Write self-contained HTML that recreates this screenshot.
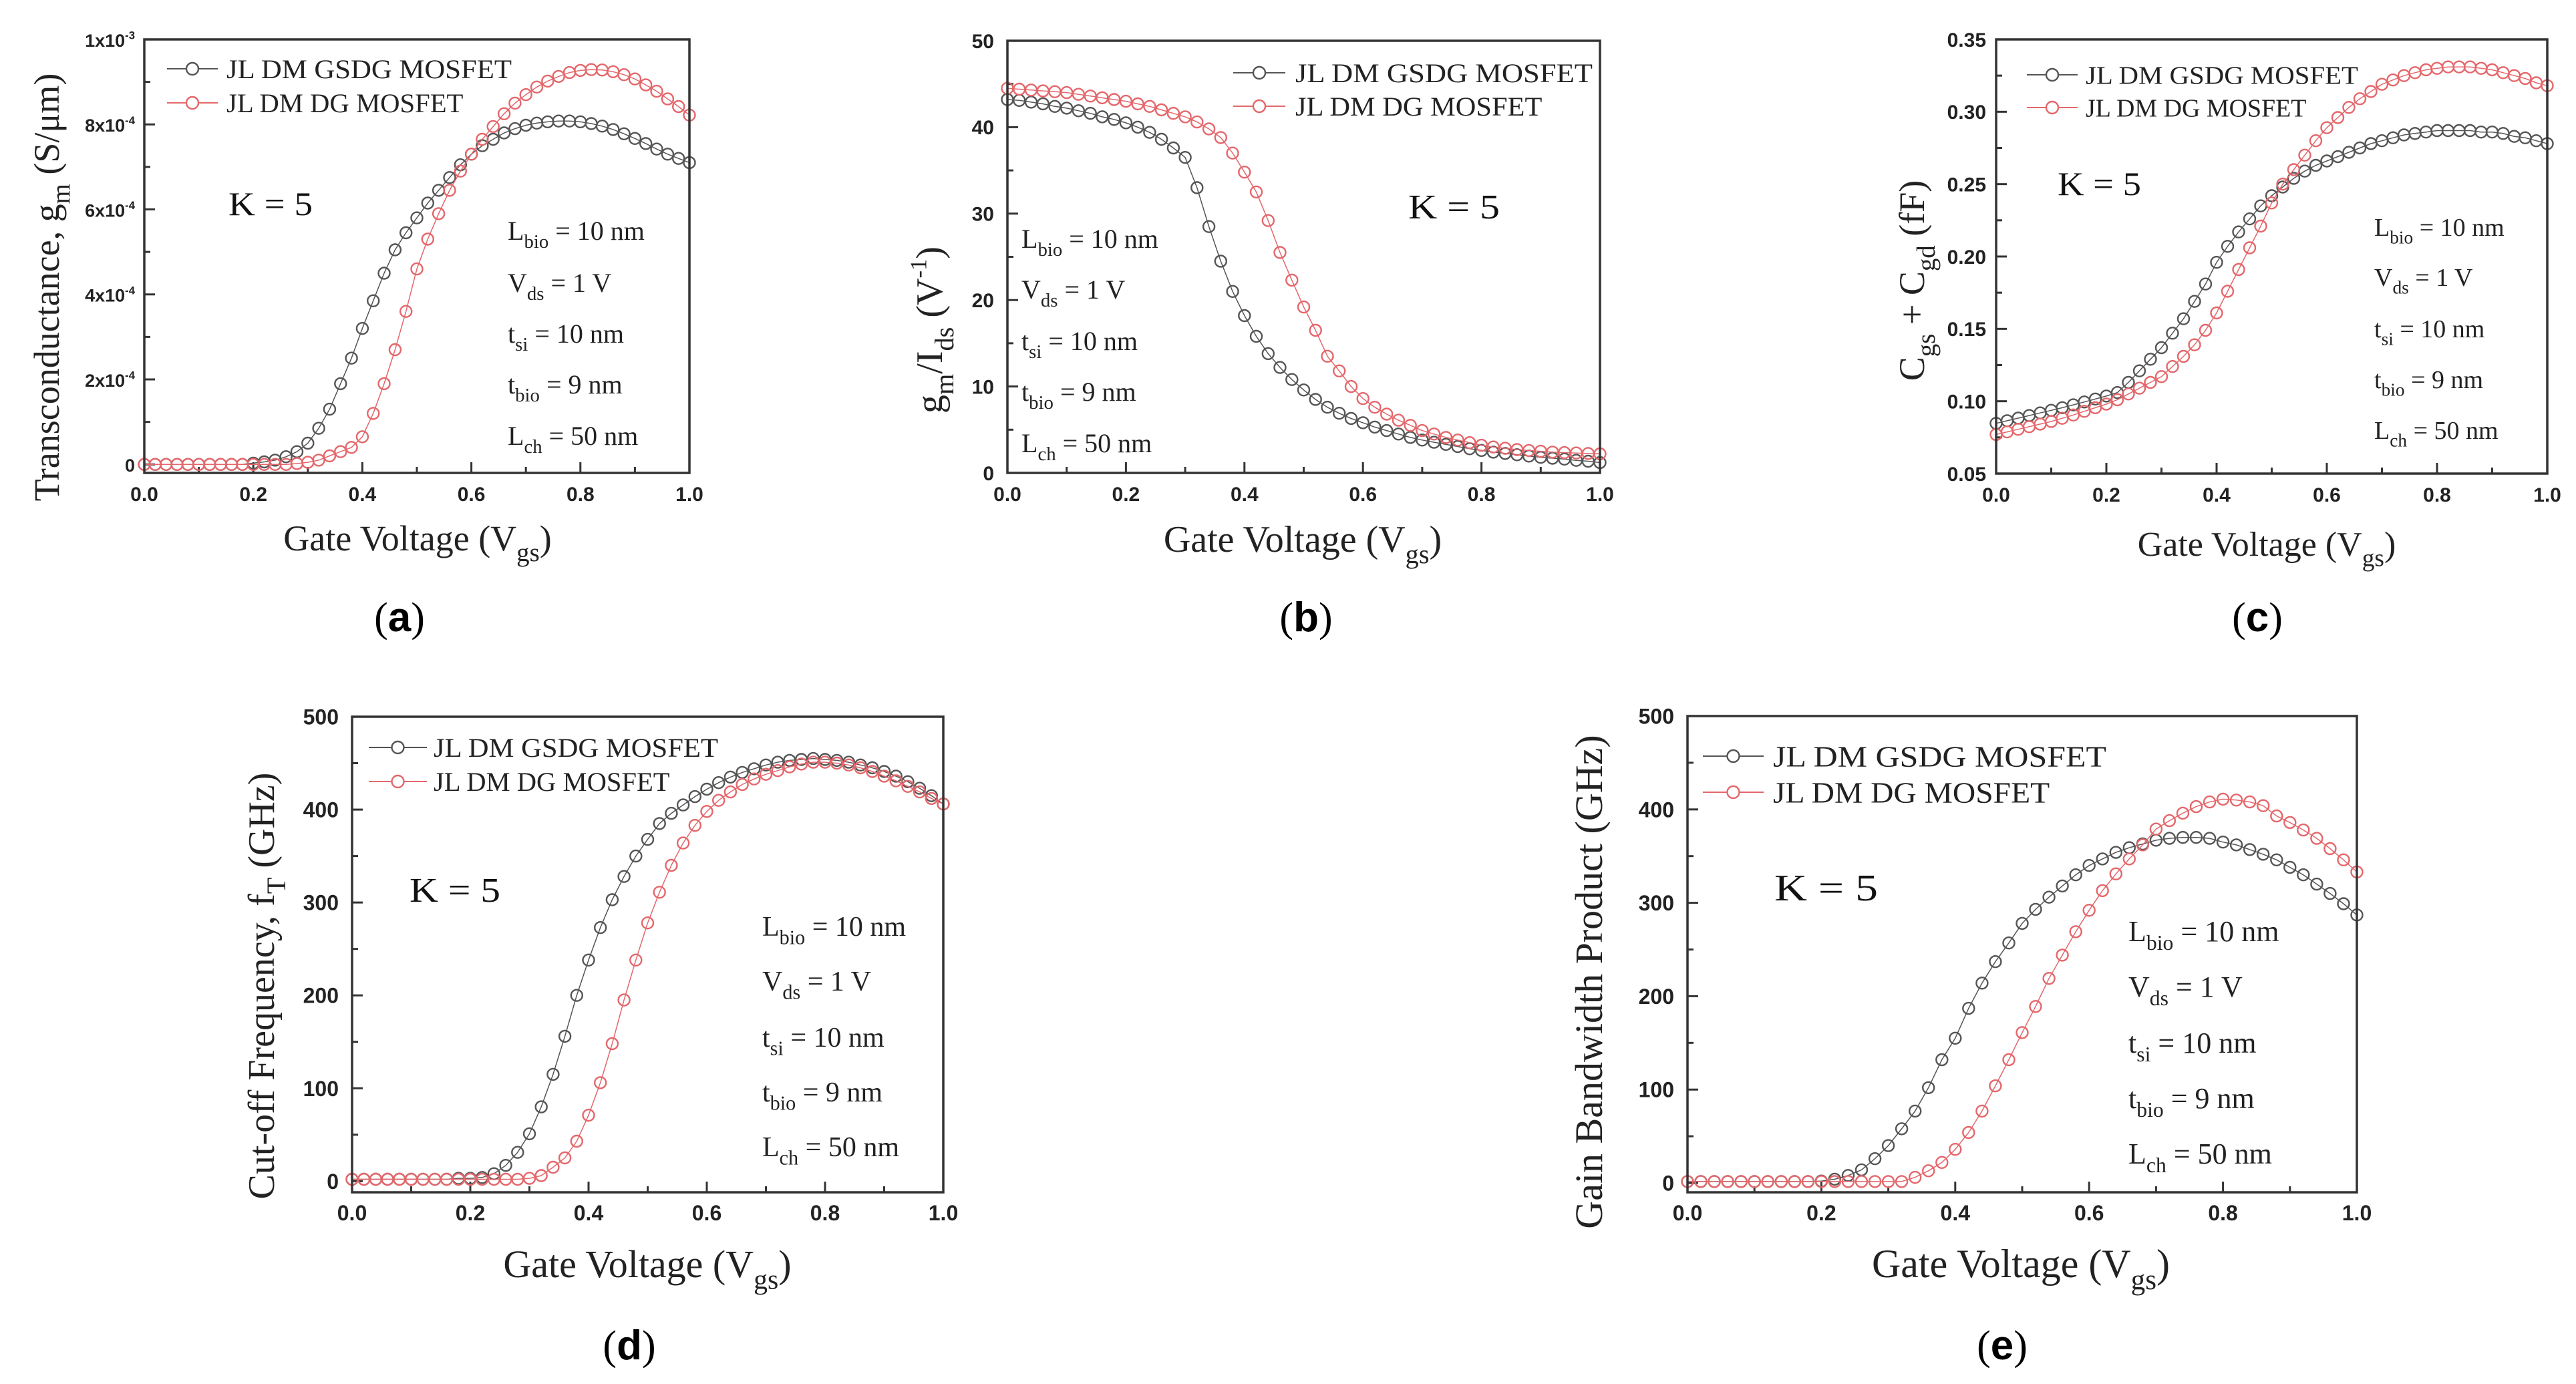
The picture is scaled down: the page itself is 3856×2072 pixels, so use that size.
<!DOCTYPE html>
<html><head><meta charset="utf-8"><style>
html,body{margin:0;padding:0;background:#fff;}
svg{display:block;}
</style></head>
<body>
<svg id="fig" xmlns="http://www.w3.org/2000/svg" width="3856" height="2072" viewBox="0 0 3856 2072">
<rect x="0" y="0" width="3856" height="2072" fill="#fff"/>
</svg>
<script>
// ---------- data (x = gate voltage 0..1 step 0.02) ----------
const xVgs = Array.from({length:51},(_,i)=>+(i*0.02).toFixed(2));
const xTicks = [0,0.2,0.4,0.6,0.8,1.0];
const xTickLabels = ['0.0','0.2','0.4','0.6','0.8','1.0'];
const xMinorTicks = [0.1,0.3,0.5,0.7,0.9];

// (a) transconductance, units of 1e-4 S/um
const gmGSDG = [0,0,0,0,0,0,0,0,0,0,0.03,0.06,0.1,0.18,0.3,0.5,0.85,1.3,1.9,2.5,3.2,3.85,4.5,5.05,5.45,5.8,6.15,6.45,6.75,7.05,7.3,7.5,7.65,7.8,7.9,7.98,8.03,8.06,8.08,8.08,8.06,8.02,7.96,7.88,7.78,7.67,7.55,7.42,7.3,7.2,7.1];
const gmDG = [0,0,0,0,0,0,0,0,0,0,0,0,0,0,0.02,0.05,0.1,0.2,0.3,0.4,0.65,1.2,1.9,2.7,3.6,4.6,5.3,5.9,6.45,6.9,7.3,7.65,7.95,8.25,8.5,8.7,8.88,9.02,9.13,9.22,9.27,9.29,9.28,9.24,9.17,9.07,8.93,8.78,8.6,8.42,8.22];
const aYTicks = [0,2,4,6,8,10];
const aYTickLabels = ['0','2x10^{-4}','4x10^{-4}','6x10^{-4}','8x10^{-4}','1x10^{-3}'];
const aYMinor = [1,3,5,7,9];

// (b) gm/Ids (1/V)
const gmIdGSDG = [43.2,43.1,42.9,42.7,42.4,42.2,41.9,41.6,41.2,40.9,40.5,40,39.4,38.6,37.6,36.5,33,28.5,24.5,21,18.2,15.8,13.8,12.2,10.8,9.6,8.5,7.6,6.9,6.3,5.8,5.3,4.9,4.5,4.1,3.8,3.55,3.3,3.05,2.8,2.6,2.4,2.25,2.1,1.95,1.8,1.7,1.6,1.45,1.35,1.2];
const gmIdDG = [44.5,44.4,44.3,44.2,44.1,44,43.8,43.6,43.4,43.2,43,42.7,42.4,42,41.6,41.2,40.6,39.8,38.8,37,34.8,32.5,29.2,25.5,22.3,19.2,16.5,13.5,11.8,10,8.6,7.6,6.8,6.1,5.5,4.9,4.5,4.1,3.8,3.5,3.2,3,2.85,2.7,2.6,2.5,2.4,2.35,2.3,2.25,2.2];
const bYTicks = [0,10,20,30,40,50];
const bYTickLabels = ['0','10','20','30','40','50'];
const bYMinor = [5,15,25,35,45];

// (c) Cgs + Cgd (fF)
const capGSDG = [0.0847,0.0865,0.0883,0.0901,0.0919,0.0937,0.0955,0.0975,0.0995,0.1015,0.1036,0.106,0.113,0.121,0.129,0.137,0.147,0.157,0.169,0.181,0.196,0.207,0.217,0.226,0.235,0.242,0.248,0.254,0.259,0.263,0.266,0.269,0.272,0.275,0.278,0.28,0.282,0.284,0.285,0.286,0.287,0.287,0.287,0.287,0.286,0.286,0.285,0.283,0.282,0.28,0.278];
const capDG = [0.077,0.0788,0.0806,0.0824,0.0842,0.086,0.0882,0.0905,0.093,0.0955,0.098,0.101,0.105,0.109,0.113,0.117,0.124,0.131,0.139,0.149,0.161,0.176,0.191,0.206,0.221,0.237,0.25,0.26,0.27,0.28,0.289,0.296,0.303,0.309,0.314,0.319,0.322,0.325,0.327,0.329,0.33,0.331,0.331,0.331,0.33,0.329,0.327,0.325,0.323,0.32,0.318];
const cYTicks = [0.05,0.10,0.15,0.20,0.25,0.30,0.35];
const cYTickLabels = ['0.05','0.10','0.15','0.20','0.25','0.30','0.35'];
const cYMinor = [0.075,0.125,0.175,0.225,0.275,0.325];

// (d) cut-off frequency fT (GHz)
const ftGSDG = [2,2,2,2,2,2,2,2,2,3,3,4,8,17,31,51,80,115,156,200,238,273,303,328,350,368,385,396,405,414,422,429,435,440,444,448,451,453,454,455,454,453,451,448,445,441,436,430,423,415,406];
const ftDG = [2,2,2,2,2,2,2,2,2,2,2,2,2,2,2,3,6,15,25,43,71,106,148,195,238,278,311,340,364,383,398,410,419,427,433,438,442,446,449,451,451,450,448,445,441,436,431,425,419,412,406];
const dYTicks = [0,100,200,300,400,500];
const dYTickLabels = ['0','100','200','300','400','500'];
const dYMinor = [50,150,250,350,450];

// (e) gain bandwidth product (GHz)
const gbwGSDG = [1.5,1.5,1.5,1.5,1.5,1.5,1.5,1.5,1.5,1.5,2,4,8,14,26,40,58,77,102,132,155,187,214,237,257,278,293,306,318,330,340,347,354,359,363,367,369,370,370,369,365,362,357,352,346,338,330,320,310,299,287];
const gbwDG = [1.5,1.5,1.5,1.5,1.5,1.5,1.5,1.5,1.5,1.5,1.5,1.5,1.5,1.5,1.5,1.5,1.5,6,13,22,36,54,77,104,132,161,189,219,244,269,292,313,331,347,362,379,388,396,403,408,411,410,408,404,393,386,378,369,358,346,333];
const eYTicks = [0,100,200,300,400,500];
const eYTickLabels = ['0','100','200','300','400','500'];
const eYMinor = [50,150,250,350,450];

const legendNames = ['JL DM GSDG MOSFET','JL DM DG MOSFET'];
const paramLines = ['L_{bio} = 10 nm','V_{ds} = 1 V','t_{si} = 10 nm','t_{bio} = 9 nm','L_{ch} = 50 nm'];

// ---------- rendering ----------
const NS='http://www.w3.org/2000/svg';
const svg=document.getElementById('fig');
const GRAY='#555555', RED='#e4676b';

function mk(tag, attrs, parent){
  const e=document.createElementNS(NS,tag);
  for(const k in attrs) e.setAttribute(k,attrs[k]);
  (parent||svg).appendChild(e);
  return e;
}
function rich(t, str, size){
  const parts=str.split(/(_\{[^}]*\}|\^\{[^}]*\})/);
  let shift=0;
  for(const p of parts){
    if(!p) continue;
    let target=0, fs=size, txt=p;
    if(p[0]==='_'){target=size*0.3; fs=size*0.72; txt=p.slice(2,-1);}
    else if(p[0]==='^'){target=-size*0.42; fs=size*0.62; txt=p.slice(2,-1);}
    const ts=document.createElementNS(NS,'tspan');
    ts.setAttribute('dy',(target-shift).toFixed(1));
    ts.setAttribute('font-size',fs.toFixed(1));
    ts.textContent=txt;
    t.appendChild(ts);
    shift=target;
  }
}

function drawPanel(p, gray, red, yTicks, yLabels, yMinor){
  const g=mk('g',{});
  
  
  const sx=v=>p.L+(v-0)*(p.R-p.L);
  const sy=v=>p.B-(v-p.ymin)/(p.ymax-p.ymin)*(p.B-p.T);
  for(let i=0;i<xTicks.length;i++){
    const x=sx(xTicks[i]);
    const tk=mk('line',{x1:x,x2:x,y1:p.B,y2:p.B-16,stroke:'#333','stroke-width':3},g);
    
    
    const lb=mk('text',{x:x,y:p.B+p.xlabOff,'text-anchor':'middle','font-family':'Liberation Sans, sans-serif','font-weight':'bold','font-size':p.tickFs,fill:'#222'},g);
    lb.textContent=xTickLabels[i];
    
    
  }
  for(const v of xMinorTicks){
    const x=sx(v);
    const tk=mk('line',{x1:x,x2:x,y1:p.B,y2:p.B-9,stroke:'#333','stroke-width':3},g);
    
    
  }
  for(let i=0;i<yTicks.length;i++){
    const y=sy(yTicks[i]);
    const tk=mk('line',{x1:p.L,x2:p.L+16,y1:y,y2:y,stroke:'#333','stroke-width':3},g);
    
    
    const lb=mk('text',{x:p.L-p.ylabOff,y:y+p.tickFs*0.36,'text-anchor':'end','font-family':'Liberation Sans, sans-serif','font-weight':'bold','font-size':p.yTickFs||p.tickFs,fill:'#222'},g);
    rich(lb,yLabels[i],p.yTickFs||p.tickFs);
    
    
  }
  for(const v of yMinor){
    const y=sy(v);
    const tk=mk('line',{x1:p.L,x2:p.L+9,y1:y,y2:y,stroke:'#333','stroke-width':3},g);
    
    
  }
  const series=[[gray,GRAY,'gsdg'],[red,RED,'dg']];
  for(const [data,col,nm] of series){
    const sg=mk('g',{},g);
    
    
    const pts=data.map((v,i)=>sx(xVgs[i]).toFixed(1)+','+sy(v).toFixed(1)).join(' ');
    const pl=mk('polyline',{points:pts,fill:'none',stroke:col,'stroke-width':1.5},sg);
    
    
    data.forEach((v,i)=>{
      const c=mk('circle',{cx:sx(xVgs[i]).toFixed(1),cy:sy(v).toFixed(1),r:8.5,fill:'none',stroke:col,'stroke-width':2.4},sg);
      
      
    });
  }
  const fr=mk('rect',{x:p.L,y:p.T,width:p.R-p.L,height:p.B-p.T,fill:'none',stroke:'#333','stroke-width':3.5},g);
  
  
  const lg=mk('g',{},g);
  
  
  [[GRAY,p.leg.y1],[RED,p.leg.y2]].forEach(([col,y],i)=>{
    const ln=mk('line',{x1:p.leg.x1,x2:p.leg.x2,y1:y,y2:y,stroke:col,'stroke-width':2},lg);
    
    
    const c=mk('circle',{cx:(p.leg.x1+p.leg.x2)/2,cy:y,r:9,fill:'#fff',stroke:col,'stroke-width':2.4},lg);
    
    
    const t=mk('text',{x:p.leg.tx,y:y+p.leg.fs*0.35,'font-family':'Liberation Serif, serif','font-size':p.leg.fs,fill:'#222',textLength:p.leg.tw*(i===0?1:p.leg.r2),lengthAdjust:'spacingAndGlyphs'},lg);
    t.textContent=legendNames[i];
    
    
  });
  const k=mk('text',{x:p.k.x,y:p.k.y,'font-family':'Liberation Serif, serif','font-size':p.k.fs,fill:'#111',textLength:p.k.w,lengthAdjust:'spacingAndGlyphs'},g);
  k.textContent='K = 5';
  
  
  paramLines.forEach((s,i)=>{
    const t=mk('text',{x:p.par.x,y:p.par.ys[i],'font-family':'Liberation Serif, serif','font-size':p.par.fs,fill:'#222'},g);
    rich(t,s,p.par.fs);
    
    
  });
  const xt=mk('text',{x:p.xt.x,y:p.xt.y,'text-anchor':'middle','font-family':'Liberation Serif, serif','font-size':p.xt.fs,fill:'#222'},g);
  rich(xt,'Gate Voltage (V_{gs})',p.xt.fs);
  
  
  const yt=mk('text',{x:p.yt.x,y:p.yt.y,'text-anchor':'middle','font-family':'Liberation Serif, serif','font-size':p.yt.fs,fill:'#222',transform:`rotate(-90 ${p.yt.x} ${p.yt.y})`},g);
  rich(yt,p.yt.s,p.yt.fs);
  
  
  const pl=mk('text',{x:p.lab.x,y:p.lab.y,'text-anchor':'middle','font-family':'Liberation Serif, serif','font-size':62,fill:'#000'},g);
  
  
  const a=document.createElementNS(NS,'tspan'); a.textContent='(';
  const b=document.createElementNS(NS,'tspan'); b.textContent=p.id; b.setAttribute('font-weight','bold'); b.setAttribute('font-family','Liberation Sans, sans-serif');
  const c=document.createElementNS(NS,'tspan'); c.textContent=')';
  pl.appendChild(a); pl.appendChild(b); pl.appendChild(c);
}

drawPanel({id:'a',L:216,R:1032,T:59,B:708,ymin:-0.2,ymax:10,tickFs:30,yTickFs:27,xlabOff:42,ylabOff:14,
  leg:{x1:250,x2:326,tx:339,y1:103,y2:154,fs:40,tw:427,r2:0.83},
  k:{x:342,y:322,fs:50,w:126},
  par:{x:760,fs:40,ys:[359,437,513,589,666]},
  xt:{x:625,y:824,fs:54},
  yt:{x:88,y:430,fs:54,s:'Transconductance, g_{m} (S/μm)'},
  lab:{x:598,y:945}}, gmGSDG, gmDG, aYTicks, aYTickLabels, aYMinor);

drawPanel({id:'b',L:1508,R:2395,T:61,B:708,ymin:0,ymax:50,tickFs:30,xlabOff:42,ylabOff:20,
  leg:{x1:1846,x2:1924,tx:1939,y1:109,y2:159,fs:40,tw:445,r2:0.83},
  k:{x:2108,y:327,fs:52,w:137},
  par:{x:1529,fs:40,ys:[371,447,524,600,677]},
  xt:{x:1950,y:826,fs:56},
  yt:{x:1410,y:494,fs:56,s:'g_{m}/I_{ds} (V^{-1})'},
  lab:{x:1955,y:945}}, gmIdGSDG, gmIdDG, bYTicks, bYTickLabels, bYMinor);

drawPanel({id:'c',L:2988,R:3813,T:59,B:709,ymin:0.05,ymax:0.35,tickFs:30,xlabOff:42,ylabOff:15,
  leg:{x1:3034,x2:3110,tx:3122,y1:112,y2:161,fs:38,tw:408,r2:0.81},
  k:{x:3080,y:292,fs:50,w:125},
  par:{x:3554,fs:38,ys:[353,428,505,581,657]},
  xt:{x:3393,y:832,fs:52},
  yt:{x:2880,y:420,fs:54,s:'C_{gs} + C_{gd} (fF)'},
  lab:{x:3379,y:945}}, capGSDG, capDG, cYTicks, cYTickLabels, cYMinor);

drawPanel({id:'d',L:527,R:1412,T:1073,B:1785,ymin:-12,ymax:500,tickFs:32,xlabOff:42,ylabOff:20,
  leg:{x1:552,x2:639,tx:649,y1:1119,y2:1170,fs:40,tw:426,r2:0.83},
  k:{x:613,y:1350,fs:52,w:136},
  par:{x:1141,fs:42,ys:[1401,1483,1567,1649,1731]},
  xt:{x:969,y:1912,fs:58},
  yt:{x:410,y:1476,fs:56,s:'Cut-off Frequency, f_{T} (GHz)'},
  lab:{x:942,y:2035}}, ftGSDG, ftDG, dYTicks, dYTickLabels, dYMinor);

drawPanel({id:'e',L:2526,R:3528,T:1072,B:1785,ymin:-10,ymax:500,tickFs:32,xlabOff:42,ylabOff:20,
  leg:{x1:2549,x2:2640,tx:2654,y1:1132,y2:1186,fs:44,tw:499,r2:0.83},
  k:{x:2656,y:1348,fs:56,w:155},
  par:{x:3186,fs:44,ys:[1409,1492,1576,1659,1742]},
  xt:{x:3025,y:1912,fs:60},
  yt:{x:2398,y:1470,fs:58,s:'Gain Bandwidth Product (GHz)'},
  lab:{x:2997,y:2035}}, gbwGSDG, gbwDG, eYTicks, eYTickLabels, eYMinor);
</script>
</body></html>
